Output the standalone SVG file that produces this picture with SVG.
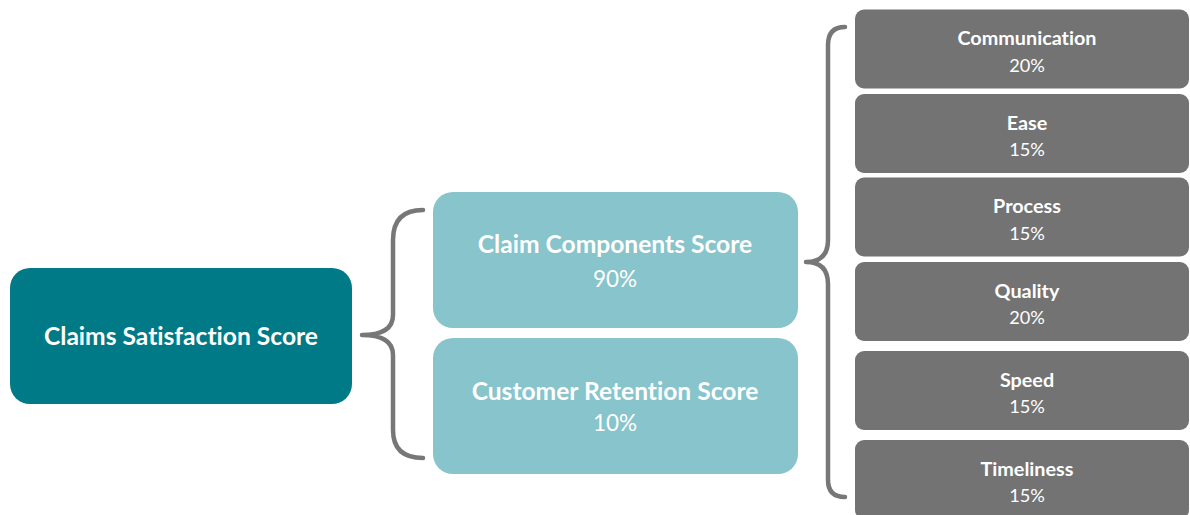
<svg xmlns="http://www.w3.org/2000/svg" width="1190" height="515" viewBox="0 0 1190 515">
<style>
.t{font-family:Lato,"Liberation Sans",sans-serif;fill:#fff;text-anchor:middle;font-variant-ligatures:none}
.b{font-weight:bold}
.brace{fill:none;stroke:#777;stroke-width:4.5;stroke-linecap:round;stroke-linejoin:round}
.sub{fill:#737373}
.mid{fill:#88c4cb}
.h1{font-size:24.6px}
.p1{font-size:22.5px}
.h2{font-size:19.8px}
.p2{font-size:18.2px}
</style>
<rect width="1190" height="515" fill="#fff"/>
<g id="connectors">
<path class="brace" d="M423,210 Q393,210 393,240 L393,315 Q393,335 362,335 Q393,335 393,355 L393,430 Q393,458 423,458"/>
<path class="brace" d="M845,27 Q828,27 828,45 L828,240 Q828,262 806,262 Q828,262 828,284 L828,480 Q828,497 845,497"/>
</g>
<g id="claims-satisfaction">
<rect x="10" y="268" width="342" height="136" rx="20" fill="#007a87"/>
<text class="t b h1" x="181" y="345">Claims Satisfaction Score</text>
</g>
<g id="claim-components">
<rect class="mid" x="433" y="192" width="365" height="136" rx="20"/>
<text class="t b h1" x="615" y="253">Claim Components Score</text>
<text class="t p1" x="615" y="287">90%</text>
</g>
<g id="customer-retention">
<rect class="mid" x="433" y="338" width="365" height="136" rx="20"/>
<text class="t b h1" x="615" y="400">Customer Retention Score</text>
<text class="t p1" x="615" y="431">10%</text>
</g>
<g id="communication">
<rect class="sub" x="855" y="9.5" width="334" height="79" rx="9"/>
<text class="t b h2" x="1027" y="45">Communication</text>
<text class="t p2" x="1027" y="72">20%</text>
</g>
<g id="ease">
<rect class="sub" x="855" y="94" width="334" height="79" rx="9"/>
<text class="t b h2" x="1027" y="129.5">Ease</text>
<text class="t p2" x="1027" y="156">15%</text>
</g>
<g id="process">
<rect class="sub" x="855" y="177.5" width="334" height="79" rx="9"/>
<text class="t b h2" x="1027" y="213">Process</text>
<text class="t p2" x="1027" y="239.5">15%</text>
</g>
<g id="quality">
<rect class="sub" x="855" y="262" width="334" height="79" rx="9"/>
<text class="t b h2" x="1027" y="297.5">Quality</text>
<text class="t p2" x="1027" y="324">20%</text>
</g>
<g id="speed">
<rect class="sub" x="855" y="351" width="334" height="79" rx="9"/>
<text class="t b h2" x="1027" y="386.5">Speed</text>
<text class="t p2" x="1027" y="413">15%</text>
</g>
<g id="timeliness">
<rect class="sub" x="855" y="440" width="334" height="79" rx="9"/>
<text class="t b h2" x="1027" y="475.5">Timeliness</text>
<text class="t p2" x="1027" y="502">15%</text>
</g>
</svg>
